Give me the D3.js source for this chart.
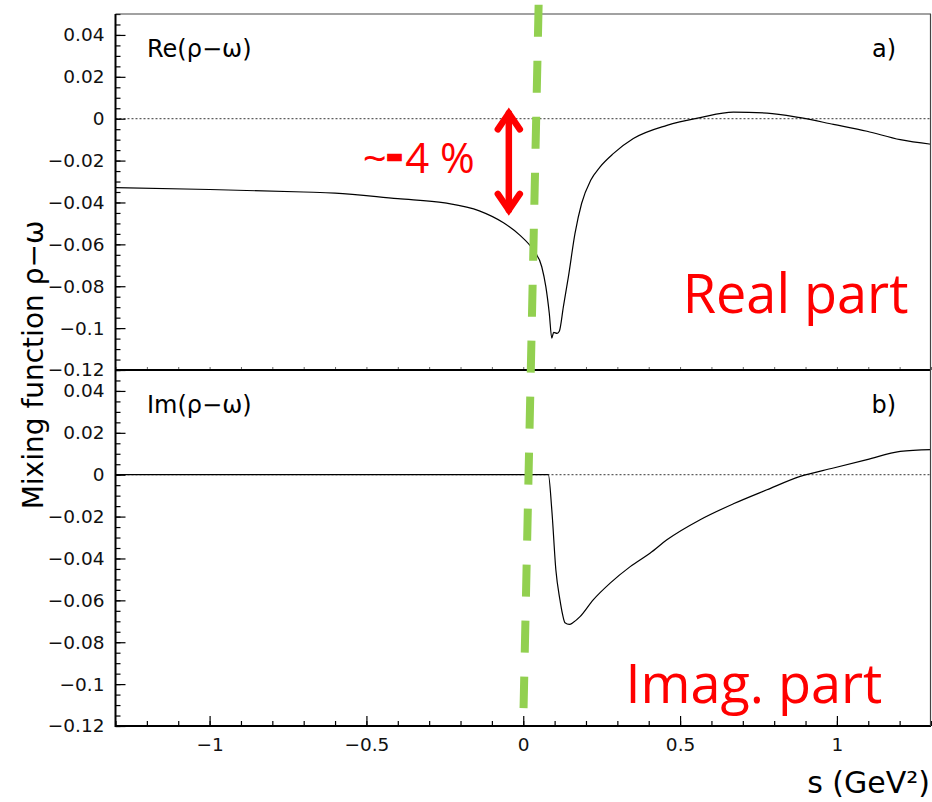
<!DOCTYPE html>
<html>
<head>
<meta charset="utf-8">
<script src="https://cdn.jsdelivr.net/npm/d3@7"></script>
<style>
  body { margin: 0; background: #fff; }
  text { font-family: "DejaVu Sans", sans-serif; }
</style>
</head>
<body>
<div id="chart"></div>
<script>
// rho-omega mixing function vs s (GeV^2)

const reS = [-1.3, -1.0, -0.7, -0.6, -0.4, -0.25, -0.14, -0.063, -0.011, 0.032, 0.059, 0.072, 0.083, 0.091,
             0.097, 0.108, 0.115, 0.128, 0.144, 0.165, 0.186, 0.215, 0.245, 0.287, 0.351, 0.458, 0.564,
             0.670, 0.777, 0.883, 0.989, 1.096, 1.202, 1.3];
const reV = [-0.0329, -0.0338, -0.0350, -0.0355, -0.0382, -0.0402, -0.0440, -0.0497, -0.0556, -0.0627, -0.0707, -0.0802, -0.0929, -0.1048,
             -0.1020, -0.1025, -0.1015, -0.0897, -0.0754, -0.0548, -0.0405, -0.0294, -0.0230, -0.0167, -0.0095, -0.0032, 0.0005,
             0.0031, 0.0027, 0.0005, -0.0027, -0.0060, -0.0100, -0.0122];

const imS = [-1.3, 0.080, 0.091, 0.104, 0.117, 0.125, 0.133, 0.147, 0.160, 0.181, 0.223, 0.277, 0.341, 0.404,
             0.458, 0.564, 0.670, 0.777, 0.883, 0.989, 1.096, 1.202, 1.3];
const imV = [0, 0, -0.0167, -0.0455, -0.0598, -0.0665, -0.0707, -0.0715, -0.0705, -0.0678, -0.0598, -0.0518, -0.0439, -0.0375,
             -0.0311, -0.0215, -0.0139, -0.0072, -0.0008, 0.0032, 0.0072, 0.0111, 0.0120];

const xTickValues = [-1, -0.5, 0, 0.5, 1];
const yTickValues = [-0.12, -0.1, -0.08, -0.06, -0.04, -0.02, 0, 0.02, 0.04];
const panelLabels = ["Re(\u03c1\u2212\u03c9)", "Im(\u03c1\u2212\u03c9)"];
const panelTags = ["a)", "b)"];
const partLabels = ["Real part", "Imag. part"];

const width = 932, height = 802;
const left = 115.5, right = 931;
const panelTops = [14, 370], panelH = 356;

const svg = d3.select("#chart").append("svg")
    .attr("width", width)
    .attr("height", height)
    .style("background", "#fff");

const x = d3.scaleLinear().domain([-1.3, 1.3]).range([left, right]);
const yScales = panelTops.map(t => d3.scaleLinear().domain([-0.12, 0.05]).range([t + panelH, t]));

const fmt = d3.format("~g");
const yMinor = d3.range(-24, 11).map(i => +(i * 0.005).toFixed(3));
const xMinor = d3.range(-13, 14).map(i => i / 10);

const series = [d3.zip(reS, reV), d3.zip(imS, imV)];

yScales.forEach((y, i) => {
    const top = panelTops[i];
    const g = svg.append("g");

    // zero line
    g.append("line")
        .attr("x1", left).attr("x2", right)
        .attr("y1", y(0)).attr("y2", y(0))
        .attr("stroke", "#000").attr("stroke-width", 0.8)
        .attr("stroke-dasharray", "2,2");

    // y axis ticks
    const ax = g.append("g").attr("transform", `translate(${left},0)`)
        .call(d3.axisLeft(y).tickValues(yTickValues).tickSize(-10).tickSizeOuter(0)
            .tickPadding(11).tickFormat(fmt));
    ax.select(".domain").remove();
    ax.selectAll("text").style("font-size", "18.5px").attr("fill", "#111");
    ax.selectAll("line").attr("stroke-width", 1.2);

    const axm = g.append("g").attr("transform", `translate(${left},0)`)
        .call(d3.axisLeft(y).tickValues(yMinor).tickSize(-5).tickFormat(""));
    axm.select(".domain").remove();
    axm.selectAll("line").attr("stroke-width", 1.2);

    // x ticks
    if (i === 1) {
        const xa = g.append("g").attr("transform", `translate(0,${top + panelH})`)
            .call(d3.axisBottom(x).tickValues(xTickValues).tickSize(-10).tickSizeOuter(0)
                .tickPadding(12).tickFormat(fmt));
        xa.select(".domain").remove();
        xa.selectAll("text").style("font-size", "18.5px").attr("fill", "#111");
        xa.selectAll("line").attr("stroke-width", 1.2);
        const xm = g.append("g").attr("transform", `translate(0,${top + panelH})`)
            .call(d3.axisBottom(x).tickValues(xMinor).tickSize(-5).tickFormat(""));
        xm.select(".domain").remove();
        xm.selectAll("line").attr("stroke-width", 1.2);
    } else {
        const xm = g.append("g").attr("transform", `translate(0,${top + panelH})`)
            .call(d3.axisBottom(x).tickValues(xMinor).tickSize(-3).tickFormat(""));
        xm.select(".domain").remove();
        xm.selectAll("line").attr("stroke", "#666");
    }

    // curve
    g.append("path")
        .datum(series[i])
        .attr("fill", "none")
        .attr("stroke", "#000")
        .attr("stroke-width", 1.2)
        .attr("d", d3.line().x(d => x(d[0])).y(d => y(d[1])).curve(d3.curveMonotoneX));

    g.append("text")
        .attr("x", 147).attr("y", top + 43)
        .style("font-size", "24px")
        .text(panelLabels[i]);
    g.append("text")
        .attr("x", 896).attr("y", top + 43)
        .attr("text-anchor", "end")
        .style("font-size", "24px")
        .text(panelTags[i]);

    // horizontal frame line at bottom of panel
    g.append("line")
        .attr("x1", left).attr("x2", right)
        .attr("y1", top + panelH).attr("y2", top + panelH)
        .attr("stroke", "#000").attr("stroke-width", 2);
});

// frame
svg.append("line").attr("x1", left).attr("x2", right).attr("y1", panelTops[0]).attr("y2", panelTops[0])
    .attr("stroke", "#444").attr("stroke-width", 1.2);
svg.append("line").attr("x1", right - 0.5).attr("x2", right - 0.5).attr("y1", panelTops[0]).attr("y2", panelTops[1] + panelH)
    .attr("stroke", "#444").attr("stroke-width", 1.2);
svg.append("line").attr("x1", left).attr("x2", left).attr("y1", panelTops[0]).attr("y2", panelTops[1] + panelH + 1)
    .attr("stroke", "#000").attr("stroke-width", 2);

// axis titles
svg.append("text")
    .attr("transform", "translate(43,365) rotate(-90)")
    .attr("text-anchor", "middle")
    .style("font-size", "28px")
    .text("Mixing function \u03c1\u2212\u03c9");
svg.append("text")
    .attr("x", 930).attr("y", 793)
    .attr("text-anchor", "end")
    .style("font-size", "30px")
    .text("s (GeV\u00b2)");

// red annotations
const red = "#ff0000";
const yTop = yScales[0], yBot = yScales[1];
svg.append("text")
    .attr("x", x(1.228)).attr("y", yTop(-0.0927))
    .attr("text-anchor", "end")
    .attr("fill", red)
    .style("font-family", "'Open Sans', sans-serif")
    .style("font-size", "54px")
    .text(partLabels[0]);
svg.append("text")
    .attr("x", x(1.145)).attr("y", yBot(-0.109))
    .attr("text-anchor", "end")
    .attr("fill", red)
    .style("font-family", "'Open Sans', sans-serif")
    .style("font-size", "54px")
    .text(partLabels[1]);

const pct = svg.append("text")
    .attr("x", x(-0.512)).attr("y", yTop(-0.026))
    .attr("fill", red)
    .style("font-family", "'Open Sans', sans-serif")
    .style("font-size", "42px");
pct.append("tspan").text("~");
pct.append("tspan").attr("dy", -4).attr("dx", 1).attr("stroke", red).attr("stroke-width", 4.5).text("-");
pct.append("tspan").attr("dy", 4).attr("dx", 4).text("4 %");

// double arrow for the ~4 % shift
const ax0 = x(-0.046), aT = yTop(0.004), aB = yTop(-0.045);
const arrow = svg.append("g")
    .attr("stroke", red).attr("stroke-width", 6.5).attr("fill", "none")
    .attr("stroke-linecap", "round").attr("stroke-linejoin", "miter");
arrow.append("line").attr("x1", ax0).attr("x2", ax0).attr("y1", aT + 3).attr("y2", aB - 3);
arrow.append("path").attr("d", `M${ax0 - 11},${aT + 19}L${ax0},${aT + 3}L${ax0 + 11},${aT + 19}`);
arrow.append("path").attr("d", `M${ax0 - 11},${aB - 19}L${ax0},${aB - 3}L${ax0 + 11},${aB - 19}`);

// green dashed marker line across both panels
svg.append("line")
    .attr("x1", x(0.049)).attr("y1", yTop(0.0544))
    .attr("x2", x(0.001)).attr("y2", yBot(-0.1115))
    .attr("stroke", "#92d050")
    .attr("stroke-width", 8)
    .attr("stroke-dasharray", "32,24");
</script>
</body>
</html>
